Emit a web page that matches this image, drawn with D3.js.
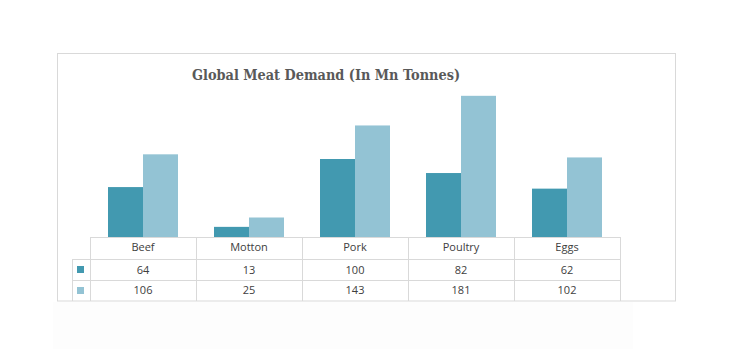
<!DOCTYPE html>
<html><head><meta charset="utf-8">
<script src="https://cdn.jsdelivr.net/npm/d3@7"></script>
<style>html,body{margin:0;padding:0;background:#fff;}svg{display:block;}</style>
</head><body>
<script>
const categories = ["Beef","Motton","Pork","Poultry","Eggs"];
const series1 = [64,13,100,82,62];
const series2 = [106,25,143,181,102];
const seriesColors = ["#4299b0","#93c3d4"];
const title = "Global Meat Demand (In Mn Tonnes)";

const W=730,H=349;
const svg=d3.select("body").append("svg").attr("width",W).attr("height",H);
svg.append("rect").attr("x",0).attr("y",0).attr("width",W).attr("height",H).attr("fill","#fff");
svg.append("rect").attr("x",53).attr("y",302).attr("width",580).attr("height",47).attr("fill","#fdfdfd");
// chart border
svg.append("rect").attr("x",57.5).attr("y",53.5).attr("width",618).attr("height",247.5)
  .attr("fill","#fff").attr("stroke","#d9d9d9").attr("stroke-width",1);

svg.append("text").attr("x",326).attr("y",80).attr("text-anchor","middle")
  .attr("font-family","DejaVu Serif, serif").attr("font-weight","bold").attr("font-size",15.5)
  .attr("fill","#595959").attr("textLength",268).attr("lengthAdjust","spacingAndGlyphs").text(title);

const x=d3.scaleBand().domain(categories).range([90,620]);
const y=d3.scaleLinear().domain([0,200]).range([237,81]);
const x1=d3.scaleBand().domain([0,1]).range([0,70]);

const data=categories.map((c,i)=>({c,v:[series1[i],series2[i]]}));
const g=svg.append("g");
data.forEach(d=>{
  d.v.forEach((v,j)=>{
    g.append("rect").attr("x",x(d.c)+(x.bandwidth()-70)/2+x1(j)).attr("width",x1.bandwidth())
     .attr("y",y(v)).attr("height",y(0)-y(v)).attr("fill",seriesColors[j]);
  });
});

// table
const lc="#d9d9d9";
const t=svg.append("g").attr("stroke",lc).attr("stroke-width",1).attr("shape-rendering","crispEdges");
t.append("line").attr("x1",90).attr("x2",620).attr("y1",237.5).attr("y2",237.5);
t.append("line").attr("x1",72).attr("x2",620).attr("y1",259.5).attr("y2",259.5);
t.append("line").attr("x1",72).attr("x2",620).attr("y1",280.5).attr("y2",280.5);
t.append("line").attr("x1",72.5).attr("x2",72.5).attr("y1",259).attr("y2",301);
categories.forEach(c=>{
  t.append("line").attr("x1",x(c)+0.5).attr("x2",x(c)+0.5).attr("y1",237).attr("y2",301);
});
t.append("line").attr("x1",620.5).attr("x2",620.5).attr("y1",237).attr("y2",301);

const txt=svg.append("g").attr("font-family","Open Sans, sans-serif").attr("font-size",11)
  .attr("fill","#404040").attr("text-anchor","middle");
categories.forEach((c,i)=>{
  const cx=x(c)+x.bandwidth()/2;
  txt.append("text").attr("x",cx).attr("y",251).text(c);
  txt.append("text").attr("x",cx).attr("y",273.5).text(series1[i]);
  txt.append("text").attr("x",cx).attr("y",294).text(series2[i]);
});
[series1,series2].forEach((s,j)=>{
  svg.append("rect").attr("x",77).attr("y",j===0?266:287).attr("width",7).attr("height",7).attr("fill",seriesColors[j]);
});
</script>
</body></html>
